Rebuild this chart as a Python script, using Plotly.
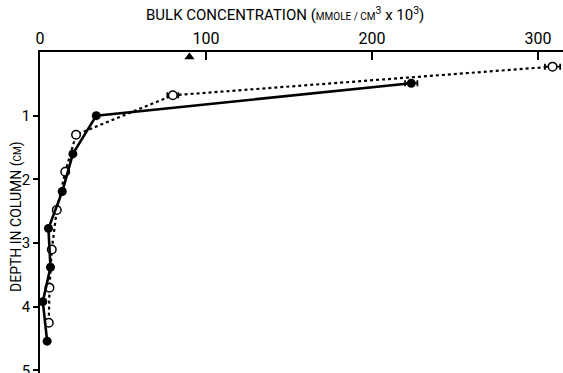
import plotly.graph_objects as go

# Filled circles (solid line)
filled_conc = [223.6, 33.9, 19.8, 13.4, 5.1, 6.3, 1.7, 4.3]
filled_depth = [0.49, 1.0, 1.6, 2.19, 2.77, 3.38, 3.92, 4.54]
filled_err = [3.7, 0, 0, 0, 0, 0, 0, 0]

# Open circles (dotted line)
open_conc = [308.7, 80.0, 21.7, 15.2, 10.1, 7.1, 5.7, 5.3]
open_depth = [0.23, 0.68, 1.3, 1.88, 2.48, 3.1, 3.7, 4.25]
open_err = [4.6, 3.3, 0, 0, 0, 0, 0, 0]

# Triangle marker
tri_conc = [90]
tri_depth = [0.08]

x_ticks = [0, 100, 200, 300]
y_ticks = [1, 2, 3, 4, 5]

FONT = "Roboto, DejaVu Sans, sans-serif"

fig = go.Figure()

fig.add_trace(go.Scatter(
    x=open_conc, y=open_depth, mode="lines+markers",
    line=dict(color="black", width=2.2, dash="dot"),
    marker=dict(symbol="circle", size=8.5, color="white", line=dict(color="black", width=1.5)),
    error_x=dict(type="data", array=open_err, visible=True, color="black", thickness=1.8, width=3),
    showlegend=False,
))
fig.add_trace(go.Scatter(
    x=filled_conc, y=filled_depth, mode="lines+markers",
    line=dict(color="black", width=2.6),
    marker=dict(symbol="circle", size=9, color="black"),
    error_x=dict(type="data", array=filled_err, visible=True, color="black", thickness=1.8, width=3),
    showlegend=False,
))
fig.add_trace(go.Scatter(
    x=tri_conc, y=tri_depth, mode="markers",
    marker=dict(symbol="triangle-up", size=9, color="black"),
    showlegend=False, cliponaxis=False,
))

fig.update_layout(
    width=563, height=373,
    margin=dict(l=40, r=0, t=52, b=0),
    paper_bgcolor="white", plot_bgcolor="white",
    font=dict(family=FONT, color="black", size=15),
    xaxis=dict(
        side="top", range=[0, 315], tickvals=x_ticks, ticktext=[str(v) for v in x_ticks],
        showgrid=False, zeroline=False, showline=True, linecolor="black", linewidth=1.5,
        ticks="inside", ticklen=8, tickwidth=1.5, tickcolor="black",
        tickfont=dict(size=16, family=FONT), automargin=False,
    ),
    yaxis=dict(
        range=[5.04, 0], tickvals=y_ticks, ticktext=[str(v) for v in y_ticks],
        showgrid=False, zeroline=False, showline=True, linecolor="black", linewidth=1.5,
        ticks="outside", ticklen=5, tickwidth=1.5, tickcolor="black",
        tickfont=dict(size=15, family=FONT), automargin=False,
        ticklabeloverflow="allow",
    ),
    annotations=[
        dict(
            text="BULK CONCENTRATION (<span style='font-size:10px'>MMOLE / CM</span><sup>3</sup> x 10<sup>3</sup>)",
            xref="paper", yref="paper", x=(285 - 40) / 523, y=1, yshift=38,
            showarrow=False, xanchor="center", yanchor="middle",
            font=dict(size=15, family=FONT, color="black"),
        ),
        dict(
            text="DEPTH IN COLUMN (<span style='font-size:10px'>CM</span>)",
            xref="paper", yref="paper", x=0, xshift=-23, y=(373 - 217) / 321,
            showarrow=False, textangle=-90, xanchor="center", yanchor="middle",
            font=dict(size=14, family=FONT, color="black"),
        ),
    ],
)

# remove the browser's default 8px body margin so the figure fills the window
fig.write_html("out.html", config={"displayModeBar": False},
               post_script="document.body.style.margin='0px';")
